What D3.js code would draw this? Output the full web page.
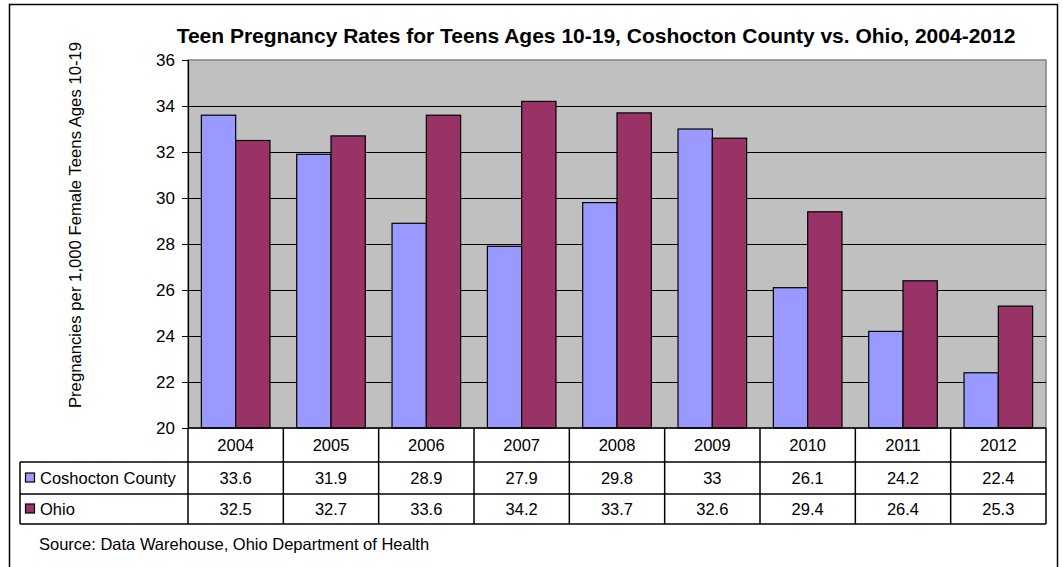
<!DOCTYPE html>
<html><head><meta charset="utf-8">
<script src="https://cdn.jsdelivr.net/npm/d3@7"></script>
<style>body{margin:0;background:#fff;} svg{display:block;font-family:"Liberation Sans",Arial,sans-serif;}</style>
</head><body>
<svg id="c" width="1063" height="567"></svg>
<script>
const years = ["2004","2005","2006","2007","2008","2009","2010","2011","2012"];
const seriesNames = ["Coshocton County","Ohio"];
const coshocton = [33.6,31.9,28.9,27.9,29.8,33,26.1,24.2,22.4];
const ohio = [32.5,32.7,33.6,34.2,33.7,32.6,29.4,26.4,25.3];
const yTicks = [20,22,24,26,28,30,32,34,36];
const colors = ["#9999FF","#993366"];
const titleText = "Teen Pregnancy Rates for Teens Ages 10-19, Coshocton County vs. Ohio, 2004-2012";
const yLabel = "Pregnancies per 1,000 Female Teens Ages 10-19";
const sourceText = "Source: Data Warehouse, Ohio Department of Health";

const svg = d3.select("#c");
const L = 188, R = 1046, T = 60, B = 428;
const rowH = [428, 462, 494, 524];
const series = [coshocton, ohio];
const fs = 16.5;

// outer frame
svg.append("rect").attr("x",9.5).attr("y",4.5).attr("width",1048).attr("height",580)
  .attr("fill","#fff").attr("stroke","#000").attr("stroke-width",1.5);

const x = d3.scaleBand().domain(years).range([L,R]).paddingInner(0).paddingOuter(0);
const xs = d3.scaleBand().domain([0,1]).range([0,x.bandwidth()]).paddingInner(0).paddingOuter(0.39);
const y = d3.scaleLinear().domain([20,36]).range([B,T]);

// plot bg
svg.append("rect").attr("x",L).attr("y",T).attr("width",R-L).attr("height",B-T)
  .attr("fill","#C0C0C0").attr("stroke","#808080").attr("stroke-width",1.5);

// gridlines
svg.append("g").selectAll("line").data(yTicks.filter(d=>d>20&&d<36)).join("line")
  .attr("x1",L).attr("x2",R).attr("y1",d=>Math.round(y(d))+0.5).attr("y2",d=>Math.round(y(d))+0.5)
  .attr("stroke","#000").attr("stroke-width",1.2);

// bars
series.forEach((s,si)=>{
  svg.append("g").selectAll("rect").data(s).join("rect")
    .attr("x",(d,i)=>x(years[i])+xs(si))
    .attr("y",d=>y(d))
    .attr("width",xs.bandwidth())
    .attr("height",d=>y(20)-y(d))
    .attr("fill",colors[si]).attr("stroke","#000").attr("stroke-width",1.2);
});

// y axis
const yAxis = d3.axisLeft(y).tickValues(yTicks).tickSize(6).tickPadding(7);
const ga = svg.append("g").attr("transform",`translate(${L},0)`).call(yAxis);
ga.select(".domain").attr("stroke","#000").attr("stroke-width",1.2);
ga.selectAll("line").attr("stroke","#000");
ga.selectAll("text").attr("font-size",17).attr("fill","#000").attr("font-family","Liberation Sans,Arial,sans-serif");

// data table
const tg = svg.append("g").attr("stroke","#000").attr("stroke-width",1.5);
tg.append("line").attr("x1",L).attr("x2",R).attr("y1",rowH[0]).attr("y2",rowH[0]);
[1,2,3].forEach(k=>{
  tg.append("line").attr("x1",20).attr("x2",R).attr("y1",rowH[k]).attr("y2",rowH[k]);
});
tg.append("line").attr("x1",20).attr("x2",20).attr("y1",rowH[1]).attr("y2",rowH[3]);
years.forEach(yr=>{
  tg.append("line").attr("x1",x(yr)).attr("x2",x(yr)).attr("y1",rowH[0]).attr("y2",rowH[3]);
});
tg.append("line").attr("x1",R).attr("x2",R).attr("y1",rowH[0]).attr("y2",rowH[3]);

// header year labels
svg.append("g").selectAll("text").data(years).join("text")
  .attr("x",d=>x(d)+x.bandwidth()/2).attr("y",(rowH[0]+rowH[1])/2+6)
  .attr("text-anchor","middle").attr("font-size",fs).text(d=>d);

// values rows
series.forEach((s,si)=>{
  const cy = (rowH[si+1]+rowH[si+2])/2+6;
  svg.append("g").selectAll("text").data(s).join("text")
    .attr("x",(d,i)=>x(years[i])+x.bandwidth()/2).attr("y",cy)
    .attr("text-anchor","middle").attr("font-size",fs).text(d=>String(d));
  svg.append("rect").attr("x",25.5).attr("y",cy-11).attr("width",9).attr("height",9)
    .attr("fill",colors[si]).attr("stroke","#000").attr("stroke-width",1.2);
  svg.append("text").attr("x",40).attr("y",cy).attr("font-size",fs).text(seriesNames[si]);
});

// title
svg.append("text").attr("x",596).attr("y",43).attr("text-anchor","middle")
  .attr("font-size",21).attr("font-weight","bold").text(titleText);

// y label
svg.append("text").attr("transform","translate(81,225) rotate(-90)")
  .attr("text-anchor","middle").attr("font-size",16.7).text(yLabel);

// source
svg.append("text").attr("x",39).attr("y",550).attr("font-size",16.5).text(sourceText);
</script>
</body></html>
